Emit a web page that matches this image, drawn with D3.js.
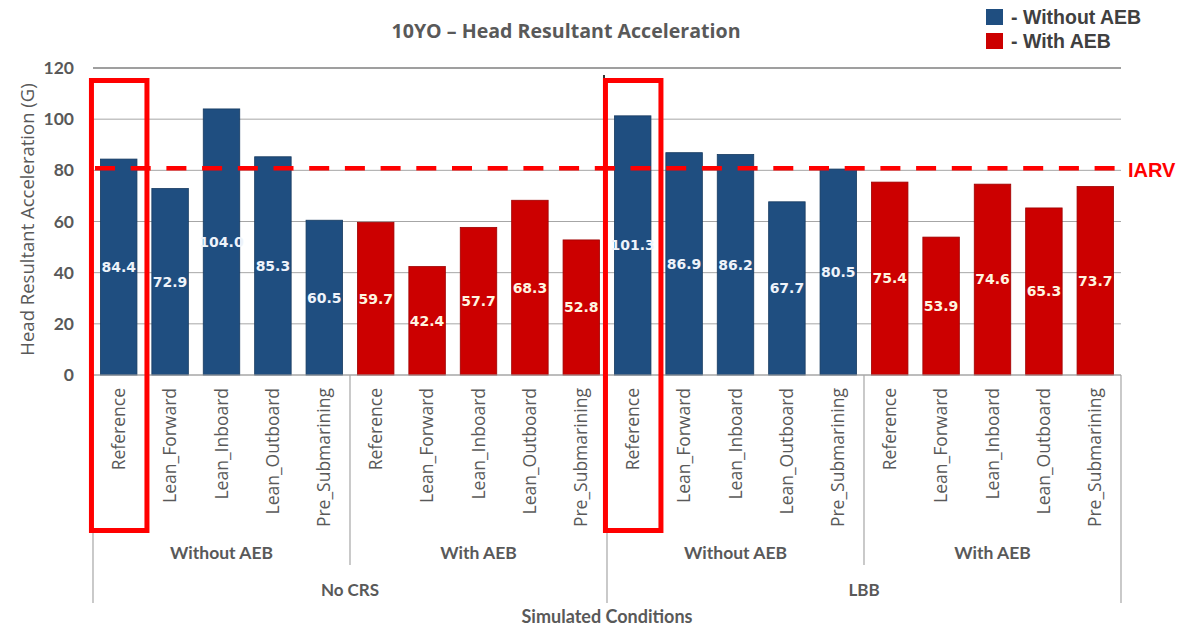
<!DOCTYPE html>
<html>
<head>
<meta charset="utf-8">
<style>
  body { margin: 0; background: #fff; }
  svg { display: block; font-family: Lato, "Open Sans", sans-serif; }
</style>
</head>
<body>
<svg width="1195" height="628"></svg>
<script src="https://cdn.jsdelivr.net/npm/d3@7"></script>
<script>
// Chart data
const conditions = ['Reference', 'Lean_Forward', 'Lean_Inboard', 'Lean_Outboard', 'Pre_Submarining'];
const aebGroups = ['Without AEB', 'With AEB', 'Without AEB', 'With AEB'];
const crsGroups = ['No CRS', 'LBB'];
const values = [84.4, 72.9, 104.0, 85.3, 60.5,
                59.7, 42.4, 57.7, 68.3, 52.8,
                101.3, 86.9, 86.2, 67.7, 80.5,
                75.4, 53.9, 74.6, 65.3, 73.7];
const yTicks = [0, 20, 40, 60, 80, 100, 120];
const iarv = 80;
const legendItems = ['- Without AEB', '- With AEB'];
const highlighted = [0, 10];

const blue = '#1f4e80', red = '#cc0000', grey = '#595959';

// one row per bar
const rows = values.map((v, i) => ({
  i: i,
  name: conditions[i % 5],
  aeb: aebGroups[Math.floor(i / 5)],
  value: v,
  withAeb: Math.floor(i / 5) % 2 === 1
}));

const plotLeft = 93, plotRight = 1121, plotTop = 68, plotBottom = 375;
const svg = d3.select('svg');

const x = d3.scaleBand().domain(d3.range(values.length)).range([plotLeft, plotRight]).paddingInner(0.29).paddingOuter(0.145);
const y = d3.scaleLinear().domain([0, 120]).range([plotBottom, plotTop]);
const step = x.step();

// gridlines + y labels
svg.append('g').selectAll('line').data(yTicks).join('line')
  .attr('x1', plotLeft).attr('x2', plotRight)
  .attr('y1', d => y(d)).attr('y2', d => y(d))
  .attr('stroke', d => d === 120 ? '#7f7f7f' : '#a6a6a6')
  .attr('stroke-width', d => d === 120 ? 1.5 : 1);

const yAxis = svg.append('g').attr('transform', 'translate(' + plotLeft + ',0)')
  .call(d3.axisLeft(y).tickValues(yTicks).tickSize(0).tickPadding(19));
yAxis.select('.domain').remove();
yAxis.selectAll('text').attr('font-size', 17.5).attr('font-weight', 'bold')
  .attr('fill', grey).attr('font-family', 'Lato, sans-serif');

svg.append('text').text('Head Resultant Acceleration (G)')
  .attr('transform', 'translate(34,' + (y(60) - 2) + ') rotate(-90)')
  .attr('text-anchor', 'middle').attr('font-size', 18.5).attr('fill', grey)
  .attr('font-family', '"Open Sans", sans-serif');

// bars
svg.append('g').selectAll('rect').data(rows).join('rect')
  .attr('x', d => x(d.i)).attr('width', x.bandwidth())
  .attr('y', d => y(d.value)).attr('height', d => y(0) - y(d.value))
  .attr('fill', d => d.withAeb ? red : blue)
  .attr('stroke', d => d.withAeb ? '#9e0000' : '#163a60')
  .attr('stroke-width', 0.8);

// value labels at middle of bar
svg.append('g').selectAll('text').data(rows).join('text')
  .attr('x', d => x(d.i) + x.bandwidth() / 2)
  .attr('y', d => (y(d.value) + y(0)) / 2)
  .attr('dy', '0.35em')
  .attr('text-anchor', 'middle')
  .attr('font-family', '"DejaVu Sans", Verdana, sans-serif')
  .attr('font-weight', 'bold').attr('font-size', 14)
  .attr('fill', d => d.withAeb ? '#fff5e0' : '#eef3fa')
  .text(d => d.value.toFixed(1));

// IARV dashed line
svg.append('line')
  .attr('x1', plotLeft + 2).attr('x2', plotRight - 6)
  .attr('y1', y(iarv) - 2).attr('y2', y(iarv) - 2)
  .attr('stroke', '#ff0000').attr('stroke-width', 4.5)
  .attr('stroke-dasharray', '20,15.7');
svg.append('text').text('IARV')
  .attr('x', plotRight + 7).attr('y', y(iarv) + 7)
  .attr('font-size', 20).attr('font-weight', 'bold').attr('fill', '#ff0000')
  .attr('font-family', '"Liberation Sans", Arial, sans-serif');

// x axis baseline
svg.append('line').attr('x1', plotLeft).attr('x2', plotRight)
  .attr('y1', plotBottom).attr('y2', plotBottom).attr('stroke', '#a6a6a6');

// category labels
svg.append('g').selectAll('text').data(rows).join('text')
  .attr('transform', d => 'translate(' + (x(d.i) + x.bandwidth() / 2) + ',' + (plotBottom + 13) + ') rotate(-90)')
  .attr('text-anchor', 'end').attr('dy', '0.35em')
  .attr('font-size', 17.5).attr('fill', grey)
  .attr('font-family', '"Open Sans", sans-serif')
  .text(d => d.name);

// group separators
const edge = k => plotLeft + k * 5 * step;
svg.append('g').selectAll('line').data(d3.range(5)).join('line')
  .attr('x1', k => edge(k)).attr('x2', k => edge(k))
  .attr('y1', plotBottom).attr('y2', k => k % 2 === 0 ? 603 : 565)
  .attr('stroke', '#a6a6a6').attr('stroke-width', 1.2);
svg.append('line').attr('x1', edge(2) - 3).attr('x2', edge(2) - 3)
  .attr('y1', 75).attr('y2', plotBottom + 100).attr('stroke', '#333').attr('stroke-width', 2);

svg.append('g').selectAll('text').data(aebGroups).join('text')
  .attr('x', (d, k) => edge(k) + 2.5 * step).attr('y', 559)
  .attr('text-anchor', 'middle').attr('font-size', 17.5).attr('font-weight', 'bold').attr('fill', grey)
  .text(d => d);
svg.append('g').selectAll('text').data(crsGroups).join('text')
  .attr('x', (d, k) => edge(2 * k) + 5 * step).attr('y', 596)
  .attr('text-anchor', 'middle').attr('font-size', 17).attr('font-weight', 'bold').attr('fill', grey)
  .text(d => d);
svg.append('text').text('Simulated Conditions')
  .attr('x', (plotLeft + plotRight) / 2).attr('y', 623)
  .attr('text-anchor', 'middle').attr('font-size', 18).attr('font-weight', 'bold').attr('fill', grey);

// red highlight boxes
svg.append('g').selectAll('rect').data(highlighted).join('rect')
  .attr('x', i => x(i) - 9).attr('width', x.bandwidth() + 19)
  .attr('y', 80.5).attr('height', 450)
  .attr('fill', 'none').attr('stroke', '#ff0000').attr('stroke-width', 5);

// title
svg.append('text').text('10YO \u2013 Head Resultant Acceleration')
  .attr('x', 566).attr('y', 38).attr('text-anchor', 'middle')
  .attr('font-family', '"Open Sans", sans-serif')
  .attr('font-size', 19.6).attr('font-weight', 'bold').attr('fill', grey);

// legend
const legend = svg.append('g').attr('transform', 'translate(986,9)');
legend.selectAll('rect').data(legendItems).join('rect')
  .attr('x', 0).attr('y', (d, k) => k * 24).attr('width', 17).attr('height', 16)
  .attr('fill', (d, k) => k ? red : blue);
legend.selectAll('text').data(legendItems).join('text')
  .attr('x', 25).attr('y', (d, k) => k * 24 + 8).attr('dy', '0.35em')
  .attr('font-size', 19.5).attr('font-weight', 'bold').attr('fill', '#404040')
  .attr('font-family', '"Liberation Sans", Arial, sans-serif')
  .text(d => d);
</script>
</body>
</html>
